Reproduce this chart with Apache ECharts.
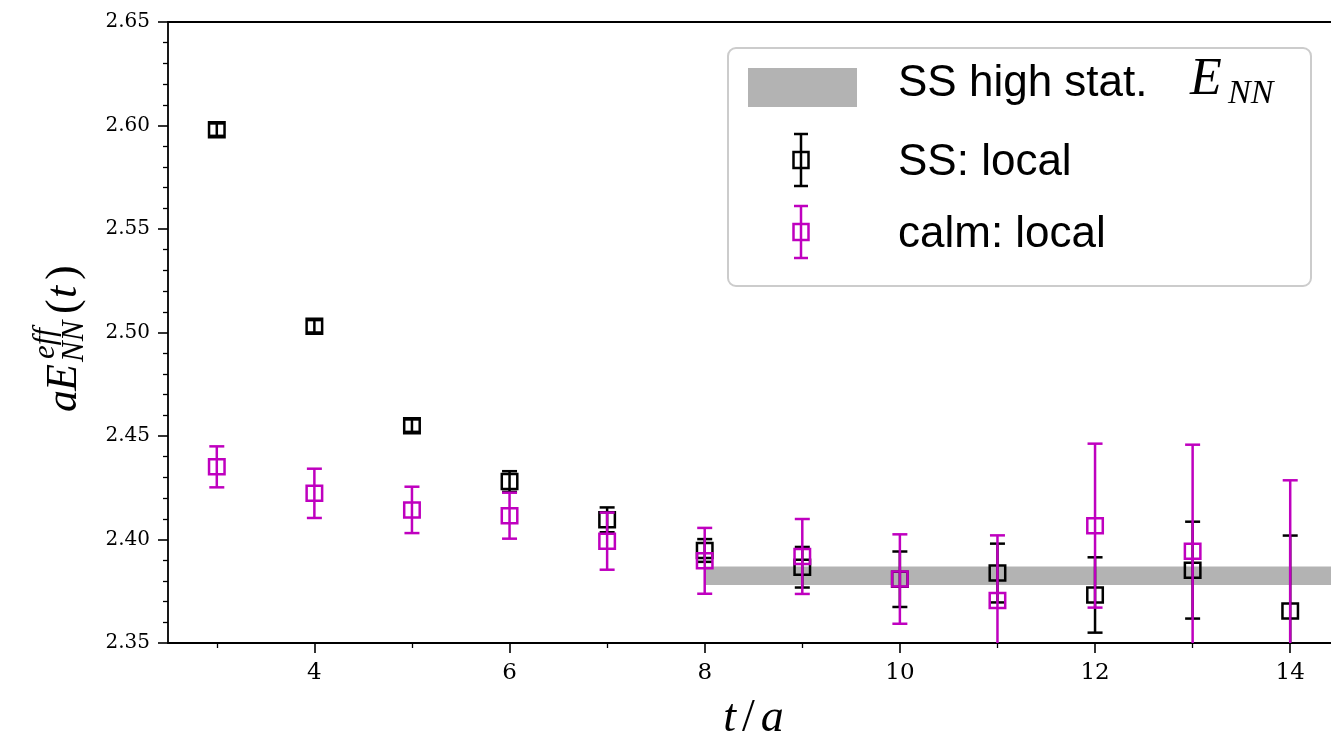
<!DOCTYPE html>
<html><head><meta charset="utf-8">
<script src="https://cdn.jsdelivr.net/npm/echarts@6/dist/echarts.min.js"></script>
<style>html,body{margin:0;padding:0;background:#fff}#c{width:1331px;height:744px}</style>
</head><body><div id="c"></div>
<script>
// ---- data ----
const tValues     = [3, 4, 5, 6, 7, 8, 9, 10, 11, 12, 13, 14];
const ssValues    = [2.598, 2.503, 2.455, 2.428, 2.4095, 2.3947, 2.3866, 2.3808, 2.3838, 2.3732, 2.3852, 2.3655];
const ssErrors    = [0.003, 0.003, 0.003, 0.005, 0.006, 0.0055, 0.0098, 0.0134, 0.0142, 0.0182, 0.0234, 0.0364];
const calmValues  = [2.4351, 2.4223, 2.4143, 2.4115, 2.3992, 2.3897, 2.3918, 2.3809, 2.3705, 2.4067, 2.3943, 2.340];
const calmErrors  = [0.0099, 0.0119, 0.0112, 0.0111, 0.0138, 0.0159, 0.0181, 0.0216, 0.0315, 0.0396, 0.0515, 0.0886];
const bandRange   = [8, 14.5];
const bandValues  = [2.378, 2.387];
const xMajorTicks = [4, 6, 8, 10, 12, 14];
const xMinorTicks = [3, 5, 7, 9, 11, 13];
const yRange      = [2.35, 2.65];
const xRange      = [2.5, 14.5];
const seriesNames = ['SS high stat. ', 'SS: local', 'calm: local'];

const BLACK = '#000000', MAGENTA = '#bf00bf', GRAY = '#b3b3b3';

function errData(vals, errs) { return tValues.map((t, i) => [t, vals[i], errs[i]]); }

function errRender(color) {
  return function (params, api) {
    const x = api.value(0), y = api.value(1), e = api.value(2);
    const cs = params.coordSys;
    const yMin = cs.y, yMax = cs.y + cs.height;
    const pc = api.coord([x, y]);
    const pt = api.coord([x, y + e]);
    const pb = api.coord([x, y - e]);
    const lw = 2.5, cap = 7.5, hw = 7.75, hh = 7.5;
    const st = { stroke: color, lineWidth: lw, fill: 'none' };
    const ch = [];
    const top = Math.max(pt[1], yMin), bot = Math.min(pb[1], yMax);
    if (bot > top) ch.push({ type: 'line', shape: { x1: pc[0], y1: top, x2: pc[0], y2: bot }, style: st });
    if (pt[1] >= yMin && pt[1] <= yMax) ch.push({ type: 'line', shape: { x1: pc[0] - cap, y1: pt[1], x2: pc[0] + cap, y2: pt[1] }, style: st });
    if (pb[1] >= yMin && pb[1] <= yMax) ch.push({ type: 'line', shape: { x1: pc[0] - cap, y1: pb[1], x2: pc[0] + cap, y2: pb[1] }, style: st });
    if (pc[1] - hh >= yMin && pc[1] + hh <= yMax)
      ch.push({ type: 'rect', shape: { x: pc[0] - hw, y: pc[1] - hh, width: 2 * hw, height: 2 * hh }, style: st });
    return { type: 'group', children: ch };
  };
}

const chart = echarts.init(document.getElementById('c'), null, { renderer: 'canvas' });

const tickFont = 'DejaVu Serif';
const mathFont = 'Liberation Serif';
const sansFont = 'Liberation Sans';

function legendMarker(cx, cy, color) {
  const st = { stroke: color, lineWidth: 2.5, fill: 'none' };
  return [
    { type: 'line', shape: { x1: cx, y1: cy - 26, x2: cx, y2: cy + 26 }, style: st },
    { type: 'line', shape: { x1: cx - 7, y1: cy - 26, x2: cx + 7, y2: cy - 26 }, style: st },
    { type: 'line', shape: { x1: cx - 7, y1: cy + 26, x2: cx + 7, y2: cy + 26 }, style: st },
    { type: 'rect', shape: { x: cx - 7.5, y: cy - 8, width: 15, height: 16 }, style: st }
  ];
}
function txt(text, x, y, font, extra) {
  return Object.assign({ type: 'text', style: { text: text, x: x, y: y, font: font, fill: '#000',
    align: 'left', verticalAlign: 'middle', textAlign: 'left', textVerticalAlign: 'middle' } }, extra || {});
}

const option = {
  backgroundColor: '#ffffff',
  animation: false,
  grid: { left: 168, top: 22, width: 1171, height: 621, show: true, borderColor: '#000', borderWidth: 1.8,
          backgroundColor: 'transparent', outerBoundsMode: 'none', containLabel: false },
  xAxis: [{
    type: 'value', min: xRange[0], max: xRange[1],
    axisLine: { show: false },
    splitLine: { show: false },
    axisTick: { show: true, customValues: xMajorTicks, length: 10, inside: false, lineStyle: { color: '#000', width: 1.6 } },
    axisLabel: { show: true, customValues: xMajorTicks, margin: 19, fontFamily: tickFont, fontSize: 23, color: '#000' },
    name: '{i|t}{s|/}{i|a}', nameLocation: 'middle', nameGap: 53,
    nameTextStyle: { rich: {
      i: { fontFamily: mathFont, fontStyle: 'italic', fontSize: 46, color: '#000', padding: [0, 3, 0, 3] },
      s: { fontFamily: mathFont, fontSize: 46, color: '#000', padding: [0, 3, 0, 3] } } }
  }, {
    type: 'value', min: xRange[0], max: xRange[1], position: 'bottom',
    axisLine: { show: false }, splitLine: { show: false }, axisLabel: { show: false },
    axisTick: { show: true, customValues: xMinorTicks, length: 5, lineStyle: { color: '#000', width: 1.3 } }
  }],
  yAxis: {
    type: 'value', min: yRange[0], max: yRange[1], interval: 0.05,
    axisLine: { show: false }, splitLine: { show: false },
    axisTick: { show: true, length: 10, lineStyle: { color: '#000', width: 1.6 } },
    minorTick: { show: true, splitNumber: 5, length: 5, lineStyle: { color: '#000', width: 1.3 } },
    axisLabel: { margin: 18, fontFamily: tickFont, fontSize: 20, color: '#000', formatter: v => v.toFixed(2) }
  },
  series: [
    { type: 'custom', name: seriesNames[0], clip: true, z: 1,
      data: [[bandRange[0], bandRange[1], bandValues[0], bandValues[1]]],
      renderItem: function (params, api) {
        const p1 = api.coord([api.value(0), api.value(3)]);
        const p2 = api.coord([api.value(1), api.value(2)]);
        return { type: 'rect', shape: { x: p1[0], y: p1[1], width: p2[0] - p1[0], height: p2[1] - p1[1] }, style: { fill: GRAY } };
      } },
    { type: 'custom', name: seriesNames[1], clip: true, z: 2, data: errData(ssValues, ssErrors), renderItem: errRender(BLACK) },
    { type: 'custom', name: seriesNames[2], clip: true, z: 3, data: errData(calmValues, calmErrors), renderItem: errRender(MAGENTA) }
  ],
  graphic: [
    // y-axis label: a E^{eff}_{NN}(t)
    { type: 'group', x: 79, y: 412, rotation: Math.PI / 2, children: [
      txt('a', 0, -15, 'italic 44px "' + mathFont + '"'),
      txt('E', 21, -15, 'italic 44px "' + mathFont + '"'),
      txt('eff', 53, -33, 'italic 31px "' + mathFont + '"'),
      txt('NN', 50, -4, 'italic 31px "' + mathFont + '"'),
      txt('(', 98, -15, '44px "' + mathFont + '"'),
      txt('t', 114, -15, 'italic 44px "' + mathFont + '"'),
      txt(')', 132, -15, '44px "' + mathFont + '"')
    ] },
    // legend
    { type: 'group', z: 100, children: [
      { type: 'rect', shape: { x: 728, y: 48, width: 583, height: 238, r: 8 },
        style: { fill: 'rgba(255,255,255,0.8)', stroke: '#cccccc', lineWidth: 2 } },
      { type: 'rect', shape: { x: 748, y: 68, width: 109, height: 39 }, style: { fill: GRAY } },
      txt(seriesNames[0], 898, 83.4, '44px "' + sansFont + '"'),
      txt('E', 1190, 80, 'italic 52px "' + mathFont + '"'),
      txt('NN', 1228, 94, 'italic 34px "' + mathFont + '"'),
      ...legendMarker(801, 160, BLACK),
      txt(seriesNames[1], 898, 162.4, '44px "' + sansFont + '"'),
      ...legendMarker(801, 232, MAGENTA),
      txt(seriesNames[2], 898, 234.4, '44px "' + sansFont + '"')
    ] }
  ]
};
chart.setOption(option);
</script></body></html>
